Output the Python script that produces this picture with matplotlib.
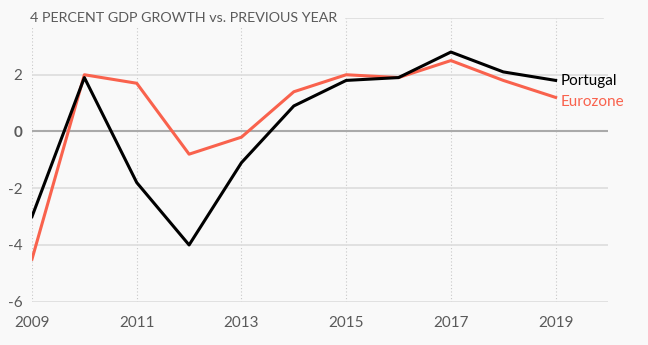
import matplotlib.pyplot as plt
import matplotlib.transforms as mtransforms

years = list(range(2009, 2020))
portugal = [-3.0, 1.9, -1.8, -4.0, -1.1, 0.9, 1.8, 1.9, 2.8, 2.1, 1.8]
eurozone = [-4.5, 2.0, 1.7, -0.8, -0.2, 1.4, 2.0, 1.9, 2.5, 1.8, 1.2]
xticks = [2009, 2011, 2013, 2015, 2017, 2019]
yticks = [-6, -4, -2, 0, 2]

plt.rcParams['font.family'] = ['Lato', 'DejaVu Sans']
bg = '#f9f9f9'
txt = '#5a5a5a'
coral = '#f9624d'

fig = plt.figure(figsize=(6.48, 3.45), dpi=100, facecolor=bg)
ax = fig.add_axes([32 / 648, (345 - 301.7) / 345, (608 - 32) / 648, (301.7 - 18) / 345])
ax.set_facecolor(bg)
ax.set_xlim(2009, 2020)
ax.set_ylim(-6, 4)

# grid
for x in xticks:
    ax.axvline(x, color='#c8c8c8', lw=0.8, ls=(0, (1, 2)), zorder=1)
for y in [-6, -4, -2, 2]:
    ax.axhline(y, color='#dddddd', lw=1.2, zorder=1)
ax.axhline(0, color='#aaaaaa', lw=1.5, zorder=1)
ax.plot([2015.0, 2019.9], [4, 4], color='#dddddd', lw=1.2, zorder=1)

ax.plot(years, eurozone, color=coral, lw=2.2, zorder=3)
ax.plot(years, portugal, color='black', lw=2.2, zorder=4)

ax.text(2019.1, 1.78, 'Portugal', color='black', fontsize=11, va='center', ha='left')
ax.text(2019.1, 1.03, 'Eurozone', color=coral, fontsize=11, va='center', ha='left')

# title sits on the top gridline, lined up with the y tick labels
trans = mtransforms.blended_transform_factory(fig.transFigure, ax.transData)
ax.text(30 / 648, 4, '4 PERCENT GDP GROWTH vs. PREVIOUS YEAR', transform=trans,
        color=txt, fontsize=10.3, va='center', ha='left', zorder=5,
        bbox=dict(facecolor=bg, edgecolor='none', pad=2))

ax.set_xticks(xticks)
ax.set_xticklabels([str(x) for x in xticks])
ax.set_yticks(yticks)
ax.set_yticklabels([str(y) for y in yticks])
ax.get_yticklabels()[3].set_fontweight('bold')
ax.tick_params(length=0, labelsize=11, labelcolor=txt)
ax.tick_params(axis='y', pad=7)
ax.tick_params(axis='x', pad=10)
for s in ax.spines.values():
    s.set_visible(False)

fig.savefig('out.png', dpi=100, facecolor=bg)
